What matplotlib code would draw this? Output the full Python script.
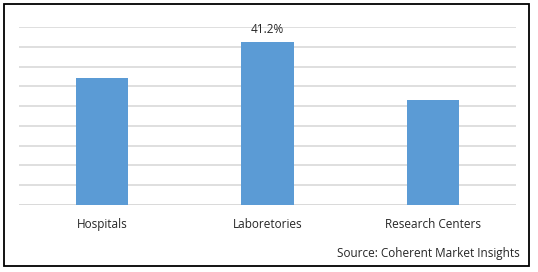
import matplotlib
matplotlib.use("Agg")
import matplotlib.pyplot as plt
from matplotlib.patches import Rectangle

categories = ["Hospitals", "Laboretories", "Research Centers"]
values = [32.2, 41.2, 26.6]
labels = ["", "41.2%", ""]
source = "Source: Coherent Market Insights"

W, H = 538, 272
fig = plt.figure(figsize=(W / 100, H / 100), dpi=100)
fig.patch.set_facecolor("white")

# outer border
fig.patches.append(Rectangle((4 / W, 1 - 266 / H), 525 / W, 262 / H,
                             transform=fig.transFigure, fill=False,
                             edgecolor="black", linewidth=1.3))

ax = fig.add_axes([19 / W, 1 - 205 / H, 497 / W, 178 / H])
x = range(len(categories))
ax.bar(x, values, width=0.314, color="#5b9bd5", zorder=3)
ax.set_xlim(-0.5, 2.5)
ax.set_ylim(0, 45)
ax.set_yticks(range(0, 46, 5))
ax.yaxis.grid(True, color="#d9d9d9", linewidth=1.2, zorder=0)
ax.tick_params(axis="y", left=False, labelleft=False)
ax.tick_params(axis="x", bottom=False, pad=6, labelsize=8.5, colors="#262626")
ax.set_xticks(list(x))
ax.set_xticklabels(categories, family="Open Sans")
for s in ax.spines.values():
    s.set_visible(False)
ax.axhline(0, color="#d9d9d9", linewidth=1.2, zorder=1)

for xi, v, lab in zip(x, values, labels):
    if lab:
        ax.annotate(lab, (xi, v), xytext=(0, 4), textcoords="offset points",
                    ha="center", va="bottom", fontsize=8.5, family="Open Sans",
                    color="#262626")

fig.text(520 / W, 1 - 254 / H, source, ha="right", va="center",
         fontsize=8.5, family="Open Sans", color="#262626")

fig.savefig("out.png", dpi=100)
